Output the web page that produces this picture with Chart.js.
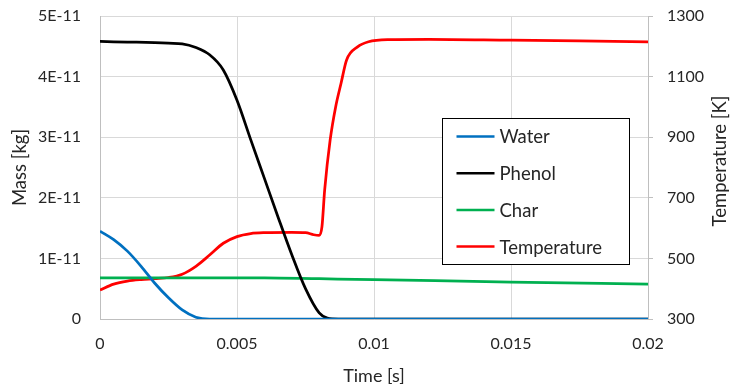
<!DOCTYPE html>
<html>
<head>
<meta charset="utf-8">
<script src="https://cdn.jsdelivr.net/npm/chart.js@4.4.1/dist/chart.umd.min.js"></script>
<style>
  html, body { margin: 0; padding: 0; background: #fff; }
  #wrap { width: 730px; height: 390px; }
</style>
</head>
<body>
<div id="wrap"><canvas id="myChart"></canvas></div>
<script>
// time [s] and values
const waterTime = [0, 0.0005, 0.001, 0.0015, 0.002, 0.0025, 0.003, 0.0035, 0.004, 0.005, 0.01, 0.015, 0.02];
const waterMass = [1.45e-11, 1.31e-11, 1.12e-11, 0.87e-11, 0.59e-11, 0.35e-11, 0.15e-11, 0.03e-11, 0, 0, 0, 0, 0];

const phenolTime = [0, 0.001, 0.002, 0.003, 0.0035, 0.004, 0.0045, 0.005, 0.0055, 0.006, 0.0065, 0.007, 0.0075, 0.008, 0.0083, 0.0087, 0.01, 0.015, 0.02];
const phenolMass = [4.58e-11, 4.57e-11, 4.56e-11, 4.54e-11, 4.48e-11, 4.36e-11, 4.11e-11, 3.61e-11, 2.96e-11, 2.32e-11, 1.68e-11, 1.06e-11, 0.5e-11, 0.1e-11, 0.015e-11, 0, 0, 0, 0];

const charTime = [0, 0.006, 0.008, 0.01, 0.015, 0.02];
const charMass = [0.68e-11, 0.68e-11, 0.665e-11, 0.65e-11, 0.61e-11, 0.575e-11];

const tempTime = [0, 0.0005, 0.001, 0.0015, 0.002, 0.0025, 0.003, 0.0035, 0.004, 0.0045, 0.005, 0.0055, 0.006, 0.007, 0.0075, 0.0078, 0.008, 0.0081, 0.0082, 0.0084, 0.0086, 0.0088, 0.009, 0.0094, 0.0098, 0.0105, 0.012, 0.015, 0.02];
const tempK = [396, 415, 425, 430, 433, 437, 448, 474, 511, 550, 572, 582, 585, 586, 585, 578, 576, 604, 726, 891, 1000, 1079, 1155, 1198, 1215, 1222, 1223, 1220, 1215];

const seriesNames = ['Water', 'Phenol', 'Char', 'Temperature'];
const seriesColors = ['#0070C0', '#000000', '#00B050', '#FF0000'];

const massTicks = [0, 1e-11, 2e-11, 3e-11, 4e-11, 5e-11];
const timeTicks = [0, 0.005, 0.01, 0.015, 0.02];
const tempTicks = [300, 500, 700, 900, 1100, 1300];

const pts = (xs, ys) => xs.map((x, i) => ({ x: x, y: ys[i] }));

const FONT = 'Lato';
const TXT = '#262626';

// keep tick label padding from pushing the plot area in
const fixBox = (w, h) => (s) => {
  if (w) s.width = w;
  if (h) s.height = h;
  s.paddingTop = 0; s.paddingBottom = 0; s.paddingLeft = 0; s.paddingRight = 0;
};

// legend box inside the plot + right axis title reading bottom-to-top
const extras = {
  id: 'extras',
  afterDraw(chart) {
    const ctx = chart.ctx;
    const a = chart.chartArea;
    ctx.save();

    ctx.fillStyle = TXT;
    ctx.font = '18.5px ' + FONT;
    ctx.textAlign = 'center';
    ctx.textBaseline = 'middle';
    ctx.translate(720, a.top + 145);
    ctx.rotate(-Math.PI / 2);
    ctx.fillText('Temperature [K]', 0, 0);
    ctx.setTransform(1, 0, 0, 1, 0, 0);

    const x0 = a.left + 342.5, y0 = a.top + 102.5;
    ctx.fillStyle = '#fff';
    ctx.fillRect(x0, y0, 187, 146);
    ctx.strokeStyle = '#000';
    ctx.lineWidth = 1;
    ctx.strokeRect(x0, y0, 187, 146);
    ctx.textAlign = 'left';
    chart.data.datasets.forEach((ds, i) => {
      const yy = y0 + 18 + i * 36.7;
      ctx.strokeStyle = ds.borderColor;
      ctx.lineWidth = 2.5;
      ctx.beginPath();
      ctx.moveTo(x0 + 14, yy);
      ctx.lineTo(x0 + 52, yy);
      ctx.stroke();
      ctx.fillStyle = TXT;
      ctx.fillText(ds.label, x0 + 57, yy + 1);
    });
    ctx.restore();
  }
};

const ctx = document.getElementById('myChart');

new Chart(ctx, {
  type: 'line',
  data: {
    datasets: [
      { label: seriesNames[0], data: pts(waterTime, waterMass), borderColor: seriesColors[0], yAxisID: 'y' },
      { label: seriesNames[1], data: pts(phenolTime, phenolMass), borderColor: seriesColors[1], yAxisID: 'y' },
      { label: seriesNames[2], data: pts(charTime, charMass), borderColor: seriesColors[2], yAxisID: 'y' },
      { label: seriesNames[3], data: pts(tempTime, tempK), borderColor: seriesColors[3], yAxisID: 'y1' }
    ]
  },
  options: {
    responsive: true,
    maintainAspectRatio: false,
    animation: false,
    layout: { padding: { top: 16, left: 0, right: 0, bottom: 0 } },
    elements: {
      point: { radius: 0 },
      line: { borderWidth: 2.75, cubicInterpolationMode: 'monotone', fill: false }
    },
    plugins: {
      legend: { display: false },
      tooltip: { enabled: false }
    },
    scales: {
      x: {
        type: 'linear',
        min: 0,
        max: 0.02,
        afterBuildTicks: (s) => { s.ticks = timeTicks.map(v => ({ value: v })); },
        afterFit: fixBox(0, 71),
        ticks: {
          padding: 15,
          color: TXT,
          font: { family: FONT, size: 16 },
          callback: (v) => String(v)
        },
        grid: { color: '#d9d9d9', lineWidth: 1, drawTicks: false },
        border: { color: '#bfbfbf' },
        title: {
          display: true,
          text: 'Time [s]',
          color: TXT,
          font: { family: FONT, size: 18 },
          padding: { top: 0, bottom: 3 }
        }
      },
      y: {
        position: 'left',
        min: 0,
        max: 5e-11,
        afterBuildTicks: (s) => { s.ticks = massTicks.map(v => ({ value: v })); },
        afterFit: fixBox(100, 0),
        ticks: {
          padding: 19,
          color: TXT,
          font: { family: FONT, size: 16 },
          callback: (v) => v === 0 ? '0' : Math.round(v / 1e-11) + 'E-11'
        },
        grid: { color: '#d9d9d9', lineWidth: 1, drawTicks: false },
        border: { color: '#bfbfbf' },
        title: {
          display: true,
          text: 'Mass [kg]',
          color: TXT,
          font: { family: FONT, size: 18.5 },
          padding: { top: 9, bottom: 0 }
        }
      },
      y1: {
        position: 'right',
        min: 300,
        max: 1300,
        afterBuildTicks: (s) => { s.ticks = tempTicks.map(v => ({ value: v })); },
        afterFit: fixBox(82, 0),
        ticks: {
          padding: 14,
          color: TXT,
          font: { family: FONT, size: 16 },
          callback: (v) => String(v)
        },
        grid: { drawOnChartArea: false, drawTicks: true, tickLength: 5, color: '#bfbfbf' },
        border: { color: '#bfbfbf' },
        title: { display: false }
      }
    }
  },
  plugins: [extras]
});
</script>
</body>
</html>
